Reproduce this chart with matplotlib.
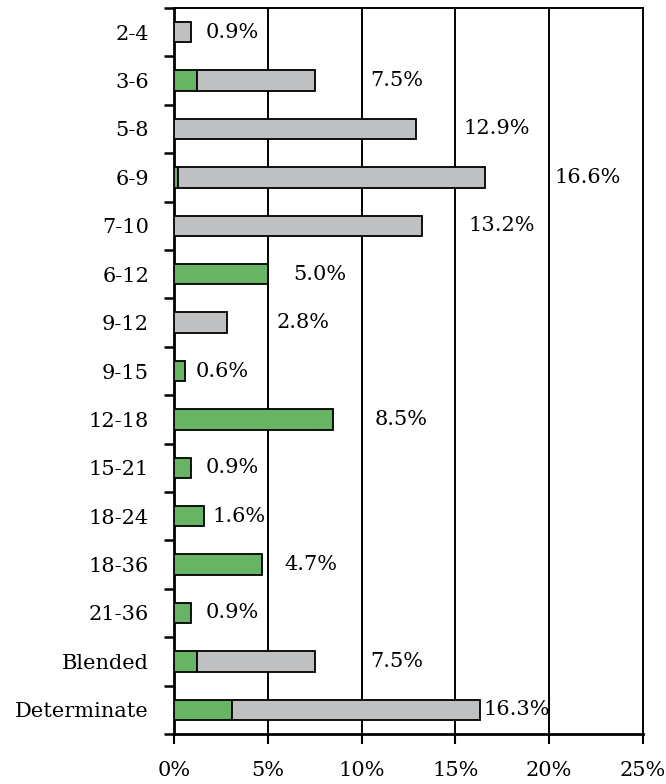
import matplotlib
matplotlib.use("Agg")
import matplotlib.pyplot as plt
import numpy as np
from matplotlib.ticker import FixedLocator, PercentFormatter

categories = ["2-4", "3-6", "5-8", "6-9", "7-10", "6-12", "9-12", "9-15",
              "12-18", "15-21", "18-24", "18-36", "21-36", "Blended", "Determinate"]
green_vals = [0.0, 1.2, 0.0, 0.2, 0.0, 5.0, 0.0, 0.6, 8.5, 0.9, 1.6, 4.7, 0.9, 1.2, 3.1]
gray_vals = [0.9, 6.3, 12.9, 16.4, 13.2, 0.0, 2.8, 0.0, 0.0, 0.0, 0.0, 0.0, 0.0, 6.3, 13.2]
total_labels = ["0.9%", "7.5%", "12.9%", "16.6%", "13.2%", "5.0%", "2.8%", "0.6%",
                "8.5%", "0.9%", "1.6%", "4.7%", "0.9%", "7.5%", "16.3%"]

# label gap from bar end, in pixels (layout, not data)
label_gap_px = [15, 56, 47, 69, 47, 25, 50, 10, 41, 15, 8, 22, 15, 56, 4]

plt.rcParams['font.family'] = ['DejaVu Serif']
fs = 15

fig = plt.figure(figsize=(6.66, 7.84), dpi=100)
ax = fig.add_axes([174/666, 1-734/784, (643-174)/666, (734-8)/784])

y = np.arange(len(categories))
green = np.array(green_vals)
gray = np.array(gray_vals)
bh = 0.42
GREEN = "#66b464"
GRAY = "#bfc0c2"
for i in range(len(categories)):
    if green[i] > 0:
        ax.barh(y[i], green[i], height=bh, color=GREEN, edgecolor="black", linewidth=1.3, zorder=3)
    if gray[i] > 0:
        ax.barh(y[i], gray[i], left=green[i], height=bh, color=GRAY, edgecolor="black", linewidth=1.3, zorder=3)

for i in range(len(categories)):
    end = green[i] + gray[i]
    ax.annotate(total_labels[i], xy=(end, y[i]), xytext=(label_gap_px[i] * 72 / 100, 0),
                textcoords="offset points", ha="left", va="center", fontsize=fs, zorder=4)

ax.set_xlim(0, 25)
ax.set_ylim(len(categories) - 0.5, -0.5)
ax.set_xticks([0, 5, 10, 15, 20, 25])
ax.xaxis.set_major_formatter(PercentFormatter(decimals=0))
ax.set_yticks(y)
ax.set_yticklabels(categories)
ax.yaxis.set_minor_locator(FixedLocator(np.arange(-0.5, len(categories), 1.0)))
ax.tick_params(axis="y", which="major", length=0, pad=18, labelsize=fs)
ax.tick_params(axis="y", which="minor", length=7.5, width=1.8, direction="out")
ax.tick_params(axis="x", which="major", length=7.5, width=1.5, direction="out", pad=12, labelsize=fs)

for x in [5, 10, 15, 20]:
    ax.axvline(x, color="black", linewidth=1.4, zorder=1)

for s in ["left", "bottom"]:
    ax.spines[s].set_linewidth(2.0)
for s in ["top", "right"]:
    ax.spines[s].set_linewidth(1.4)

fig.savefig("out.png", dpi=100)
